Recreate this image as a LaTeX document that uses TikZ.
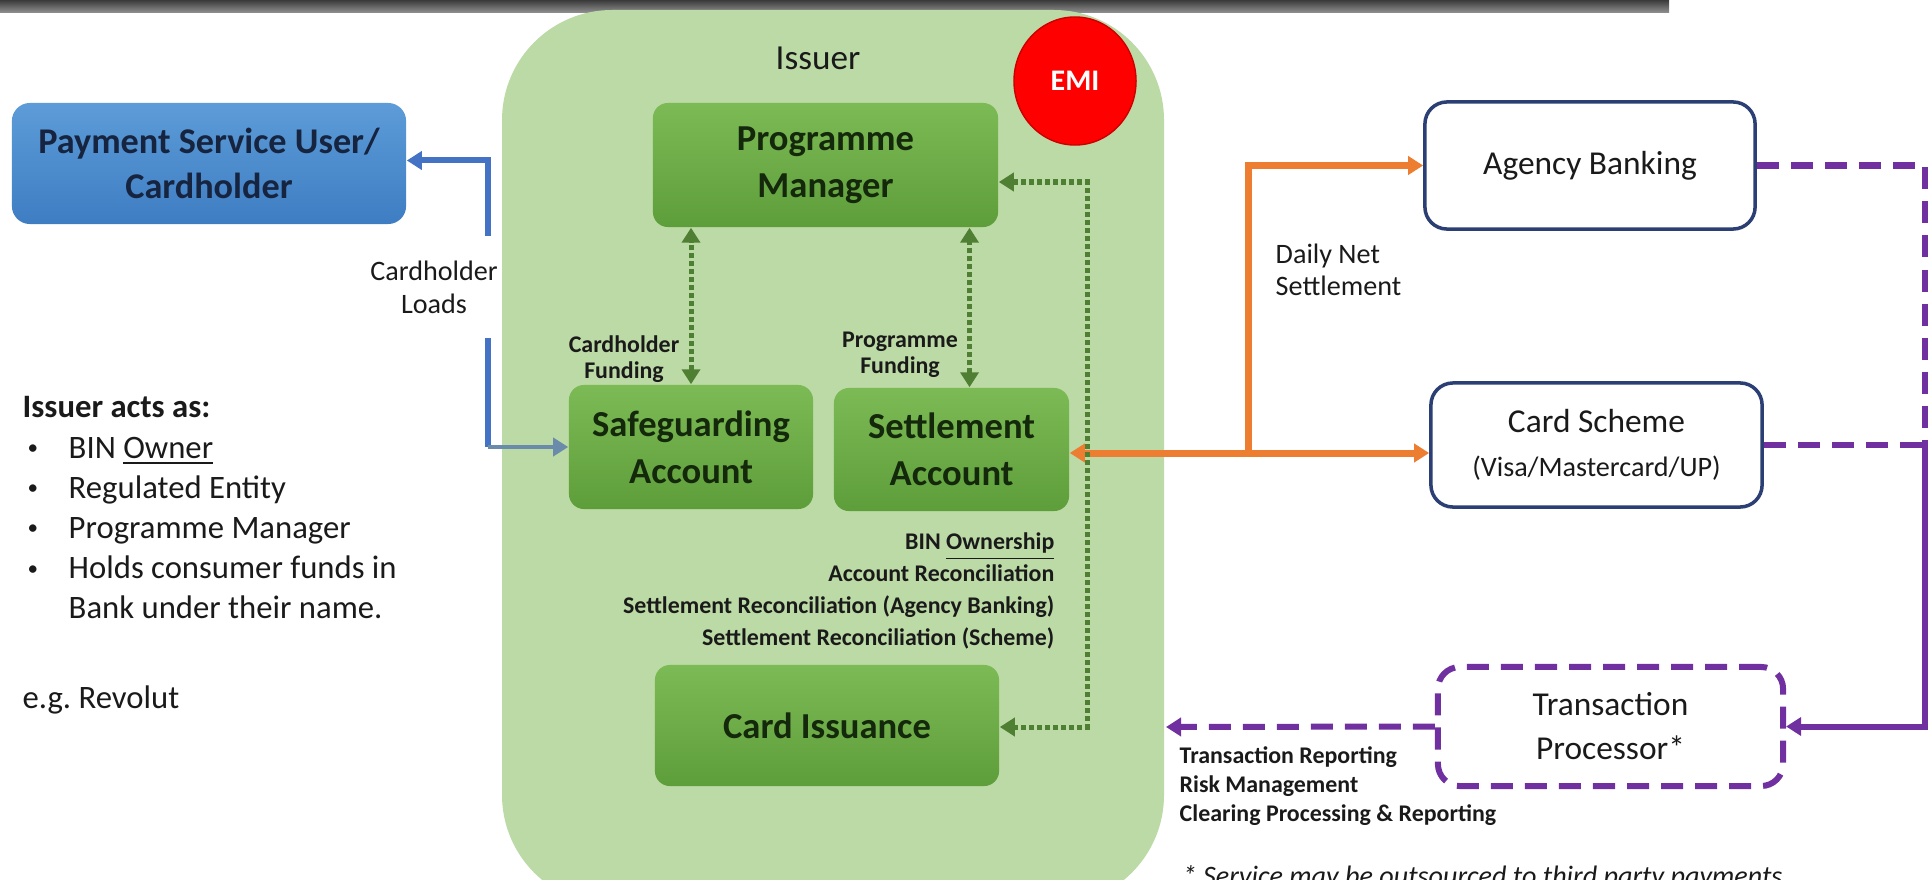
\documentclass[tikz,border=0pt]{standalone}
\usepackage{fontspec}
\setmainfont{Carlito}
\usetikzlibrary{arrows.meta,positioning,shapes.geometric}
\definecolor{cIssuer}{HTML}{BCDAA5}
\definecolor{cBoxTop}{HTML}{7CBA55}
\definecolor{cBoxBot}{HTML}{5E9E3A}
\definecolor{cDot}{HTML}{4E7F32}
\definecolor{cBlueTop}{HTML}{5D9CD8}
\definecolor{cBlueBot}{HTML}{3E7DC2}
\definecolor{cLoad}{HTML}{4472C4}
\definecolor{cLoadIn}{HTML}{6A8CAA}
\definecolor{cSettle}{HTML}{ED7D31}
\definecolor{cNavy}{HTML}{2B3F74}
\definecolor{cProc}{HTML}{7030A0}
\definecolor{cInk}{HTML}{1A1A1A}
\definecolor{cBoxInk}{HTML}{14280C}
\definecolor{cPsuInk}{HTML}{17243F}
\definecolor{cBar}{HTML}{3A3A3A}
\newcommand{\rolebullet}{\makebox[0.46cm][l]{\hspace{0.05cm}\raisebox{0.1em}{\fontsize{6}{6}\selectfont\textbullet}}}
\tikzset{
  >={Triangle[length=0.15cm,width=0.18cm]},
  greenbox/.style={rounded corners=0.15cm, top color=cBoxTop, bottom color=cBoxBot,
     align=center, text=cBoxInk, font=\fontsize{10.4}{13.4}\selectfont\bfseries},
  partybox/.style={draw=cNavy, line width=0.035cm, fill=white, rounded corners=0.22cm,
     align=center, text=cInk, font=\fontsize{9.5}{12.5}\selectfont},
  procbox/.style={partybox, draw=cProc, line width=0.06cm, dash pattern=on 0.22cm off 0.12cm},
  smalllbl/.style={text=cInk, inner sep=0pt, font=\fontsize{6.8}{7.4}\selectfont\bfseries},
  loadflow/.style={draw=cLoad, line width=0.06cm},
  settleflow/.style={draw=cSettle, line width=0.07cm},
  procflow/.style={draw=cProc, line width=0.06cm},
  procdash/.style={procflow, dash pattern=on 0.22cm off 0.12cm},
  internal/.style={draw=cDot, line width=0.05cm, dash pattern=on 0.05cm off 0.03cm},
}
\begin{document}
\begin{tikzpicture}[x=0.01cm, y=-0.01cm]
  \useasboundingbox (0,0) rectangle (1931,879);
  \clip (0,0) rectangle (1931,879);
  % title bar cut at the top
  \shade[top color=cBar, bottom color=cBar!55] (0,0) rectangle (1669,13);
  % issuer area
  \fill[cIssuer, rounded corners=1.1cm] (502,10) rectangle (1164,905);
  \node[text=cInk, font=\fontsize{10}{12}\selectfont] (issuer) at (818,58) {Issuer};
  \node[ellipse, fill=red, draw=red!80!black, minimum width=1.22cm, minimum height=1.28cm,
    text=white, font=\fontsize{8.5}{10}\selectfont\bfseries] (emi) at (1075,81) {EMI};

  \node[greenbox, minimum width=3.45cm, minimum height=1.24cm] (pm) at (825.5,165) {Programme\\Manager};
  \node[greenbox, minimum width=2.44cm, minimum height=1.24cm] (safe) at (691,447) {Safeguarding\\Account};
  \node[greenbox, minimum width=2.35cm, minimum height=1.23cm] (settle) at (951.5,449.5) {Settlement\\Account};
  \node[greenbox, minimum width=3.44cm, minimum height=1.21cm] (card) at (827,725.5) {Card Issuance};

  \node[rounded corners=0.18cm, top color=cBlueTop, bottom color=cBlueBot, align=center,
    text=cPsuInk, font=\fontsize{10.3}{12.8}\selectfont\bfseries,
    minimum width=3.94cm, minimum height=1.21cm] (psu) at (209,163.5) {Payment Service User/\\Cardholder};

  \node[partybox, minimum width=3.30cm, minimum height=1.27cm] (agency) at (1590,165.5) {Agency Banking};
  \node[partybox, minimum width=3.31cm, minimum height=1.24cm] (scheme) at (1596.5,445)
    {Card Scheme\\{\fontsize{8}{10}\selectfont(Visa/Mastercard/UP)}};
  \node[procbox, minimum width=3.45cm, minimum height=1.19cm] (tp) at (1610.5,726.5) {Transaction\\Processor*};

  % text notes
  \node[anchor=north west, align=left, inner sep=0pt, text=cInk,
    font=\fontsize{9.3}{11.4}\selectfont] (roles) at (22,396)
    {\textbf{Issuer acts as:}\\
     \rolebullet BIN \underline{Owner}\\
     \rolebullet Regulated Entity\\
     \rolebullet Programme Manager\\
     \rolebullet Holds consumer funds in\\
     \hspace*{0.46cm}Bank under their name.\\[0.5cm]
     e.g.\ Revolut};
  \node[smalllbl, align=center] (chfund) at (624,359) {Cardholder\\Funding};
  \node[smalllbl, align=center] (pgfund) at (900,355) {Programme\\Funding};
  \node[smalllbl, anchor=east, align=right, font=\fontsize{6.8}{9.1}\selectfont\bfseries] (duties) at (1055,591)
    {BIN \underline{Ownership}\\Account Reconciliation\\Settlement Reconciliation (Agency Banking)\\Settlement Reconciliation (Scheme)};
  \node[anchor=west, align=left, inner sep=0pt, text=cInk, font=\fontsize{8}{9.1}\selectfont] (daily) at (1275,270)
    {Daily Net\\Settlement};
  \node[smalllbl, anchor=west, align=left, font=\fontsize{6.8}{8.3}\selectfont\bfseries] (services) at (1179,786)
    {Transaction Reporting\\Risk Management\\Clearing Processing \& Reporting};
  \node[anchor=base west, inner sep=0pt, text=cInk, font=\fontsize{8}{9.6}\selectfont\itshape] (outsrc) at (1182,885)
    {* Service may be outsourced to third party payments};

  % cardholder loads
  \coordinate (loadbend) at (488,447);
  \draw[loadflow, ->] (loadbend) |- ([yshift=0.03cm]psu.east);
  \draw[draw=cLoadIn, line width=0.035cm, ->] (loadbend) -- (safe.west);
  \node[fill=white, inner xsep=1pt, inner ysep=0.25cm, align=center, text=cInk,
    font=\fontsize{8}{9.4}\selectfont] (loads) at (434,287) {Cardholder\\Loads};

  % daily net settlement
  \coordinate (split) at (1248,453);
  \draw[settleflow, ->] (split) -- (settle.east |- split);
  \draw[settleflow, ->] (split) |- (agency.west);
  \draw[settleflow, ->] (split) -- (scheme.west |- split);

  % funding inside the issuer
  \draw[internal, <->] (safe.north) -- (safe.north |- pm.south);
  \draw[internal, <->] ([xshift=0.18cm]settle.north) -- ([xshift=0.18cm]settle.north |- pm.south);
  \coordinate (dtop) at (1087,182);
  \coordinate (dbot) at (1087,727);
  \draw[internal, <->] (pm.east |- dtop) -- (dtop) -- (dbot) -- (card.east |- dbot);

  % processing
  \coordinate (pjoin) at (1925,447);
  \coordinate (tpout) at (1166,727);
  \draw[procdash] (agency.east) -| (pjoin);
  \draw[procdash] (scheme.east) -- (scheme.east -| pjoin);
  \draw[procflow, ->] (pjoin) |- (tp.east);
  \draw[procdash, ->] (tp.west) -- (tpout);
\end{tikzpicture}
\end{document}
